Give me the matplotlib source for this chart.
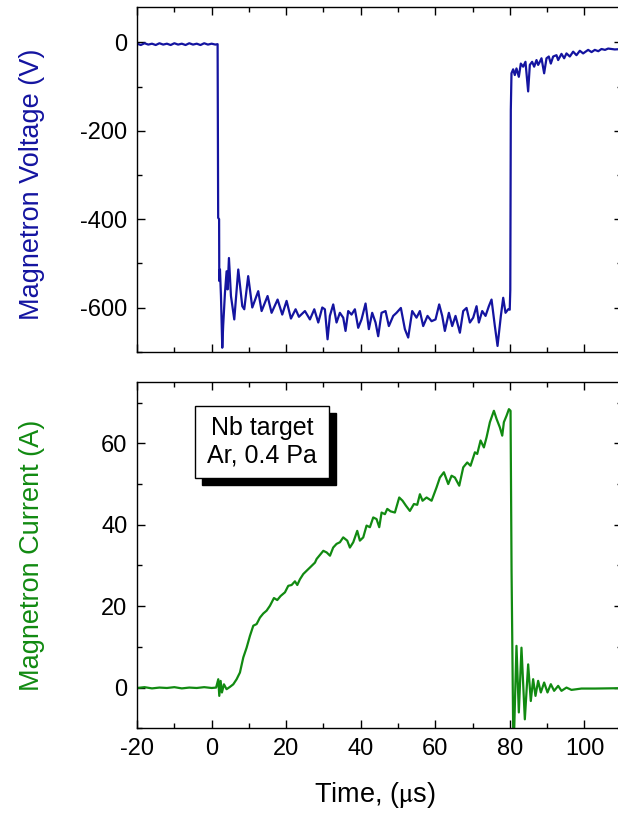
import matplotlib
matplotlib.use("Agg")
import matplotlib.pyplot as plt
from matplotlib.ticker import MultipleLocator
from matplotlib.patches import Rectangle

plt.rcParams['font.family'] = ['Liberation Sans', 'DejaVu Sans']
plt.rcParams['mathtext.fontset'] = 'stix'
plt.rcParams['axes.unicode_minus'] = False

# magnetron voltage (time in us, volts)
t_volt = [-20, -19, -18, -17, -16, -15, -14, -13, -12, -11, -10, -9, -8, -7, -6,
          -5, -4, -3, -2, -1, 0, 1, 1.6, 1.75, 2.0, 2.05, 2.23, 2.5, 2.85, 3.1,
          3.57, 4.01, 4.28, 4.64, 5.18, 6.07, 7.14, 8.22, 8.75, 9.8, 10.9, 12.5,
          13.4, 15.0, 16.08, 17.69, 18.94, 20.1, 21.27, 22.52, 23.41, 25.02, 26.36,
          27.53, 28.6, 29.67, 30.37, 31.09, 31.71, 32.61, 33.5, 34.39, 35.29, 35.91,
          36.63, 37.52, 38.42, 39.31, 40.2, 41.28, 42.17, 43.06, 43.96, 44.67, 45.57,
          46.64, 47.53, 48.7, 49.59, 50.75, 51.83, 52.72, 53.79, 54.95, 55.85, 56.74,
          57.9, 58.98, 60.05, 61.03, 61.84, 62.55, 63.63, 64.52, 65.41, 66.58, 67.47,
          68.37, 69.26, 70.15, 71.05, 71.67, 72.57, 73.46, 74.35, 75.07, 75.96, 76.68,
          77.57, 78.2, 78.82, 79.54, 79.95, 80.1, 80.24, 80.42, 80.87, 81.31, 81.76,
          82.39, 82.92, 83.55, 84.17, 84.89, 85.34, 85.96, 86.5, 87.13, 87.57, 88.02,
          88.47, 89.18, 89.81, 90.43, 90.97, 91.6, 92.49, 92.94, 93.83, 94.55, 95.17,
          96.07, 96.96, 97.85, 98.75, 99.64, 100.98, 101.9, 102.77, 103.7, 104.56,
          105.5, 106.35, 108.13, 110]
volt = [-3, -6, -2, -5, -3, -6, -2, -5, -3, -6, -2, -5, -3, -6, -2,
        -5, -3, -6, -2, -5, -3, -5, -4, -397, -400, -540, -514, -574, -691, -640,
        -567, -518, -559, -488, -574, -627, -514, -597, -604, -529, -600, -563,
        -608, -574, -612, -582, -616, -585, -625, -604, -621, -608, -627,
        -604, -634, -600, -604, -672, -619, -593, -634, -612, -623, -653,
        -608, -616, -604, -646, -627, -591, -649, -612, -634, -665, -612,
        -608, -642, -619, -612, -601, -649, -668, -608, -623, -608, -642,
        -619, -631, -627, -593, -619, -653, -612, -642, -619, -657, -608,
        -601, -634, -623, -597, -634, -608, -619, -597, -582, -642, -687,
        -619, -578, -612, -604, -605, -560, -153, -70, -61, -74, -59,
        -78, -48, -55, -44, -111, -51, -44, -55, -40, -51, -44,
        -36, -70, -36, -32, -48, -32, -29, -40, -26, -36, -25,
        -32, -21, -29, -19, -25, -17, -22, -17, -20, -15,
        -17, -14, -16, -15]

# magnetron current (time in us, amperes)
t_curr = [-20, -18, -16, -14, -12, -10, -8, -6, -4, -2, 0, 1.2, 1.78, 2.05, 2.41,
          2.76, 3.3, 4.0, 4.91, 5.8, 6.7, 7.59, 8.49, 9.38, 10.27, 11.17, 12.06,
          12.96, 13.85, 14.74, 15.64, 16.71, 17.6, 18.5, 19.66, 20.55, 21.45, 22.34,
          22.97, 23.68, 24.58, 25.47, 26.37, 27.71, 28.16, 29.95, 30.85, 31.74, 32.6,
          33.5, 34.4, 35.29, 36.37, 37.08, 37.98, 39.05, 39.76, 40.66, 41.55, 42.45,
          43.34, 44.23, 44.95, 45.58, 46.47, 47.1, 47.99, 49.15, 50.31, 51.21, 52.1,
          53.17, 54.25, 55.14, 55.86, 56.57, 57.64, 58.99, 60.33, 61.22, 62.29, 63.46,
          64.35, 65.24, 66.41, 67.48, 68.55, 69.44, 70.61, 71.23, 72.13, 73.02, 73.74,
          74.63, 75.7, 76.42, 77.31, 77.94, 78.38, 79.1, 79.73, 80.17, 80.44, 80.87,
          81.14, 81.76, 82.39, 83.1, 84.0, 84.89, 85.6, 86.23, 86.86, 87.57, 88.29,
          89.18, 90.08, 90.97, 91.86, 92.94, 93.83, 95.17, 96.51, 99.19, 102.77,
          108.94, 110]
curr = [-0.1, 0.1, -0.2, 0.0, -0.1, 0.1, -0.2, 0.0, -0.1, 0.1, -0.1, 0.0, 2.05, -2.04, 1.64,
        -1.2, 0.8, -0.4, 0.17, 0.8, 2.05, 3.7, 7.4, 9.8, 12.7, 15.2, 15.6,
        17.2, 18.2, 18.9, 20.1, 22.0, 21.5, 22.5, 23.4, 25.0, 25.2, 26.1,
        25.2, 26.6, 27.9, 28.7, 29.5, 30.7, 31.6, 33.6, 33.2, 32.4, 34.4,
        35.3, 35.7, 36.9, 36.1, 34.4, 35.7, 38.5, 36.1, 36.9, 39.8, 39.4,
        41.8, 41.4, 39.4, 43.0, 42.6, 43.9, 43.3, 43.0, 46.7, 45.9, 44.7,
        43.4, 45.1, 44.9, 47.5, 45.9, 46.7, 45.9, 49.2, 51.6, 52.9, 50.0,
        52.05, 51.6, 49.6, 54.1, 55.3, 54.5, 57.8, 57.4, 60.7, 59.0, 61.5,
        65.2, 68.0, 66.0, 63.9, 61.9, 65.2, 66.8, 68.4, 68.0, 28.7, -9.8,
        -10.6, 10.25, -6.1, 9.8, -7.8, 5.7, -3.3, 2.06, -2.04, 1.65, -1.2,
        1.24, -1.2, 0.83, -0.8, 0.42, -0.8, 0.0, -0.57, -0.24, -0.24,
        -0.16, -0.1]

blue = '#1414a0'
green = '#118a11'

fig = plt.figure(figsize=(6.18, 8.16), dpi=100)
ax1 = fig.add_axes([0.2218, 0.569, 0.7843, 0.4224])
ax2 = fig.add_axes([0.2218, 0.1075, 0.7843, 0.424])

ax1.plot(t_volt, volt, color=blue, lw=1.6)
ax2.plot(t_curr, curr, color=green, lw=1.6)

ax1.set_ylim(-700, 80)
ax2.set_ylim(-10, 75)
for ax in (ax1, ax2):
    ax.set_xlim(-20, 110)
    ax.xaxis.set_major_locator(MultipleLocator(20))
    ax.xaxis.set_minor_locator(MultipleLocator(10))
    ax.tick_params(which='both', direction='in', top=True, right=True,
                   width=1.0, labelsize=17, pad=7)
    ax.tick_params(which='major', length=6)
    ax.tick_params(which='minor', length=3.5)
    for s in ax.spines.values():
        s.set_linewidth(1.0)

ax1.yaxis.set_major_locator(MultipleLocator(200))
ax1.yaxis.set_minor_locator(MultipleLocator(100))
ax2.yaxis.set_major_locator(MultipleLocator(20))
ax2.yaxis.set_minor_locator(MultipleLocator(10))
ax1.tick_params(labelbottom=False)

ax1.set_ylabel('Magnetron Voltage (V)', color=blue, fontsize=19.5)
ax2.set_ylabel('Magnetron Current (A)', color=green, fontsize=19.5)
ax1.yaxis.set_label_coords(-0.19, 0.485)
ax2.yaxis.set_label_coords(-0.19, 0.5)
ax2.set_xlabel('Time, ($\\mathrm{\\mu}$s)', fontsize=19.5)
ax2.xaxis.set_label_coords(0.49, -0.15)

# boxed note with a drop shadow
ax2.add_patch(Rectangle((0.1339, 0.7032), 0.2766, 0.2081, transform=ax2.transAxes,
                        facecolor='black', edgecolor='black', zorder=4))
ax2.add_patch(Rectangle((0.1195, 0.7234), 0.2766, 0.2081, transform=ax2.transAxes,
                        facecolor='white', edgecolor='black', lw=1.0, zorder=5))
ax2.text(0.2578, 0.8275, 'Nb target\nAr, 0.4 Pa', transform=ax2.transAxes,
         ha='center', va='center', fontsize=18, linespacing=1.2, zorder=6)

fig.savefig('out.png', dpi=100)
